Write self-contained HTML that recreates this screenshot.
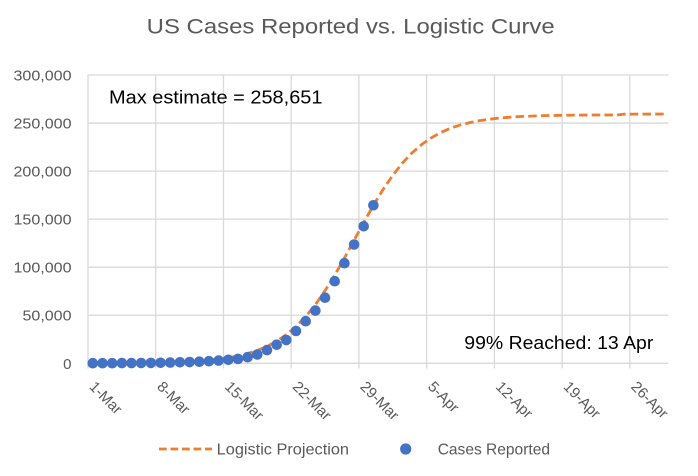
<!DOCTYPE html>
<html>
<head>
<meta charset="utf-8">
<style>
  html, body { margin: 0; padding: 0; background: #ffffff; }
  svg { display: block; }
  text { font-family: "Liberation Sans", Arial, sans-serif; }
</style>
</head>
<body>
<svg width="698" height="476" viewBox="0 0 698 476" xmlns="http://www.w3.org/2000/svg">
  <rect x="0" y="0" width="698" height="476" fill="#ffffff"/>

  <!-- Title -->
  <text x="146.7" y="33.3" font-size="21" fill="#595959" textLength="408" lengthAdjust="spacingAndGlyphs">US Cases Reported vs. Logistic Curve</text>

  <!-- Horizontal gridlines -->
  <g stroke="#D9D9D9" stroke-width="1.3" fill="none">
    <line x1="88" y1="75" x2="668.5" y2="75"/>
    <line x1="88" y1="123.05" x2="668.5" y2="123.05"/>
    <line x1="88" y1="171.1" x2="668.5" y2="171.1"/>
    <line x1="88" y1="219.15" x2="668.5" y2="219.15"/>
    <line x1="88" y1="267.2" x2="668.5" y2="267.2"/>
    <line x1="88" y1="315.25" x2="668.5" y2="315.25"/>
    <line x1="88" y1="363.3" x2="668.5" y2="363.3"/>
    <!-- Vertical gridlines + ticks -->
    <line x1="88" y1="75" x2="88" y2="368.5"/>
    <line x1="155.7" y1="75" x2="155.7" y2="368.5"/>
    <line x1="223.5" y1="75" x2="223.5" y2="368.5"/>
    <line x1="291.2" y1="75" x2="291.2" y2="368.5"/>
    <line x1="358.9" y1="75" x2="358.9" y2="368.5"/>
    <line x1="426.6" y1="75" x2="426.6" y2="368.5"/>
    <line x1="494.4" y1="75" x2="494.4" y2="368.5"/>
    <line x1="562.1" y1="75" x2="562.1" y2="368.5"/>
    <line x1="629.8" y1="75" x2="629.8" y2="368.5"/>
  </g>

  <!-- Y axis labels -->
  <g font-size="15" fill="#595959" text-anchor="end">
    <text x="71.5" y="80.5" textLength="58" lengthAdjust="spacingAndGlyphs">300,000</text>
    <text x="71.5" y="128.5" textLength="58" lengthAdjust="spacingAndGlyphs">250,000</text>
    <text x="71.5" y="176.6" textLength="58" lengthAdjust="spacingAndGlyphs">200,000</text>
    <text x="71.5" y="224.6" textLength="58" lengthAdjust="spacingAndGlyphs">150,000</text>
    <text x="71.5" y="272.7" textLength="58" lengthAdjust="spacingAndGlyphs">100,000</text>
    <text x="71.5" y="320.7" textLength="49" lengthAdjust="spacingAndGlyphs">50,000</text>
    <text x="71.5" y="368.8">0</text>
  </g>

  <!-- X axis labels (rotated 45°) -->
  <g font-size="15" fill="#595959">
    <text transform="translate(88.5,387.5) rotate(45)">1-Mar</text>
    <text transform="translate(156.2,387.5) rotate(45)">8-Mar</text>
    <text transform="translate(224,387.5) rotate(45)">15-Mar</text>
    <text transform="translate(291.7,387.5) rotate(45)">22-Mar</text>
    <text transform="translate(359.4,387.5) rotate(45)">29-Mar</text>
    <text transform="translate(427.1,387.5) rotate(45)">5-Apr</text>
    <text transform="translate(494.9,387.5) rotate(45)">12-Apr</text>
    <text transform="translate(562.6,387.5) rotate(45)">19-Apr</text>
    <text transform="translate(630.3,387.5) rotate(45)">26-Apr</text>
  </g>

  <!-- Logistic projection -->
  <path d="M92.8,363.2 L141.2,362.9 L189.6,361.5 L208.9,360.1 L228.3,357.7 L238.0,355.9 L247.6,353.5 L257.3,350.4 L267.0,346.4 L276.7,341.2 L286.3,334.7 L296.0,326.5 L305.7,316.5 L315.4,304.6 L325.0,290.7 L334.7,275.1 L344.4,258.1 L354.1,240.3 L363.7,222.5 L373.4,205.3 L383.1,189.4 L392.8,175.3 L402.4,163.1 L412.1,152.8 L421.8,144.4 L431.5,137.7 L441.1,132.3 L450.8,128.1 L460.5,124.9 L470.2,122.5 L479.8,120.6 L499.2,118.0 L518.5,116.6 L547.6,115.5 L576.6,115.1 L618,114.9 L624,114.2 L664,114.0"
        fill="none" stroke="#ED7D31" stroke-width="2.8" stroke-dasharray="8.5 4.2" stroke-linejoin="round"/>

  <!-- Cases reported -->
  <g fill="#4472C4">
    <circle cx="92.8" cy="363.2" r="5.3"/>
    <circle cx="102.5" cy="363.2" r="5.3"/>
    <circle cx="112.2" cy="363.2" r="5.3"/>
    <circle cx="121.9" cy="363.1" r="5.3"/>
    <circle cx="131.5" cy="363.1" r="5.3"/>
    <circle cx="141.2" cy="363.0" r="5.3"/>
    <circle cx="150.9" cy="362.9" r="5.3"/>
    <circle cx="160.6" cy="362.8" r="5.3"/>
    <circle cx="170.2" cy="362.6" r="5.3"/>
    <circle cx="179.9" cy="362.3" r="5.3"/>
    <circle cx="189.6" cy="362.05" r="5.3"/>
    <circle cx="199.3" cy="361.7" r="5.3"/>
    <circle cx="208.9" cy="361.2" r="5.3"/>
    <circle cx="218.6" cy="360.6" r="5.3"/>
    <circle cx="228.3" cy="359.8" r="5.3"/>
    <circle cx="238.0" cy="358.9" r="5.3"/>
    <circle cx="247.6" cy="357.2" r="5.3"/>
    <circle cx="257.3" cy="354.5" r="5.3"/>
    <circle cx="267.0" cy="350.1" r="5.3"/>
    <circle cx="276.7" cy="344.7" r="5.3"/>
    <circle cx="286.3" cy="340.05" r="5.3"/>
    <circle cx="296.0" cy="331.0" r="5.3"/>
    <circle cx="305.7" cy="321.2" r="5.3"/>
    <circle cx="315.4" cy="310.6" r="5.3"/>
    <circle cx="325.0" cy="297.7" r="5.3"/>
    <circle cx="334.7" cy="281.2" r="5.3"/>
    <circle cx="344.4" cy="263.2" r="5.3"/>
    <circle cx="354.1" cy="244.5" r="5.3"/>
    <circle cx="363.7" cy="226.3" r="5.3"/>
    <circle cx="373.4" cy="205.3" r="5.3"/>
  </g>

  <!-- Annotations -->
  <text x="109" y="103.3" font-size="18" fill="#000000" textLength="213.5" lengthAdjust="spacingAndGlyphs">Max estimate = 258,651</text>
  <text x="464.3" y="349" font-size="18" fill="#000000" textLength="189" lengthAdjust="spacingAndGlyphs">99% Reached: 13 Apr</text>

  <!-- Legend -->
  <line x1="159" y1="449" x2="212" y2="449" stroke="#ED7D31" stroke-width="2.8" stroke-dasharray="7.7 3.8"/>
  <text x="216.7" y="454.3" font-size="16" fill="#595959" textLength="132.3" lengthAdjust="spacingAndGlyphs">Logistic Projection</text>
  <circle cx="405.7" cy="449" r="5.6" fill="#4472C4"/>
  <text x="437.7" y="454.3" font-size="16" fill="#595959" textLength="112.3" lengthAdjust="spacingAndGlyphs">Cases Reported</text>
</svg>
</body>
</html>
